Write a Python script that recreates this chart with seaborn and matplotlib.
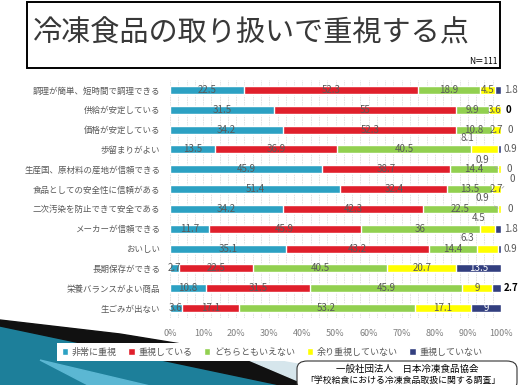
import matplotlib
matplotlib.use("Agg")
import matplotlib.pyplot as plt
from matplotlib.patches import Polygon, Rectangle, FancyBboxPatch
import numpy as np
import pandas as pd
import seaborn as sns

# data
items = [
    "調理が簡単、短時間で調理できる",
    "供給が安定している",
    "価格が安定している",
    "歩留まりがよい",
    "生産国、原材料の産地が信頼できる",
    "食品としての安全性に信頼がある",
    "二次汚染を防止できて安全である",
    "メーカーが信頼できる",
    "おいしい",
    "長期保存ができる",
    "栄養バランスがよい商品",
    "生ごみが出ない",
]
series_names = ["非常に重視", "重視している", "どちらともいえない", "余り重視していない", "重視していない"]
very_important = [22.5, 31.5, 34.2, 13.5, 45.9, 51.4, 34.2, 11.7, 35.1, 2.7, 10.8, 3.6]
important = [52.3, 55, 52.3, 36.9, 38.7, 32.4, 42.3, 45.9, 43.2, 22.5, 31.5, 17.1]
neutral = [18.9, 9.9, 10.8, 40.5, 14.4, 13.5, 22.5, 36, 14.4, 40.5, 45.9, 53.2]
not_much = [4.5, 3.6, 2.7, 8.1, 0.9, 2.7, 0.9, 4.5, 6.3, 20.7, 9, 17.1]
not_important = [1.8, 0, 0, 0.9, 0, 0, 0, 1.8, 0.9, 13.5, 2.7, 9]
tick_labels = [f"{v}%" for v in range(0, 101, 10)]

colors = ["#2ca1c3", "#e01f2b", "#92d050", "#ffff00", "#333f7f"]
label_gray = "#595959"

W, H = 520, 385


def fx(x):
    return x / W


def fy(y):
    return 1 - y / H


sns.set_style("white")
plt.rcParams["font.family"] = ["Noto Sans CJK JP", "DejaVu Sans"]

vals = np.array([very_important, important, neutral, not_much, not_important])
cums = vals.cumsum(axis=0)
df = pd.DataFrame({"item": items})
for j, name in enumerate(series_names):
    df[name] = cums[j]

fig = plt.figure(figsize=(5.2, 3.85), dpi=100)

# background decoration (bottom left)
fig.add_artist(Polygon([(fx(0), fy(326)), (fx(285), fy(386)), (fx(0), fy(386))],
                       closed=True, transform=fig.transFigure, color="#1d7f9a", zorder=0))
fig.add_artist(Polygon([(fx(40), fy(360)), (fx(150), fy(386)), (fx(90), fy(386))],
                       closed=True, transform=fig.transFigure, color="#5bb7d3", zorder=0))
fig.add_artist(Polygon([(fx(0), fy(320)), (fx(120), fy(334)), (fx(230), fy(352)),
                        (fx(310), fy(386)), (fx(285), fy(386)), (fx(0), fy(326))],
                       closed=True, transform=fig.transFigure, color="#111111", zorder=0))
fig.add_artist(Polygon([(fx(230), fy(352)), (fx(420), fy(386)), (fx(310), fy(386))],
                       closed=True, transform=fig.transFigure, color="#d6e6ec", zorder=0))
fig.add_artist(Rectangle((fx(57), fy(361)), fx(448), 18 / H, transform=fig.transFigure,
                         facecolor="white", edgecolor="none", zorder=1))

ax = fig.add_axes([fx(170), fy(318), fx(331), 238 / H])

# stacked bars: draw cumulative totals from the last series backwards
for j in range(len(series_names) - 1, -1, -1):
    sns.barplot(data=df, x=series_names[j], y="item", orient="h", color=colors[j],
                width=0.4, label=series_names[j], ax=ax, saturation=1, zorder=3)

handles, labels = ax.get_legend_handles_labels()
if ax.get_legend() is not None:
    ax.get_legend().remove()

ax.set_xlim(0, 100)
ax.set_ylim(len(items) - 0.5, -0.5)
ax.set_xticks(range(0, 101, 10))
ax.set_xticklabels(tick_labels, fontsize=6.5, color="#7f7f7f")
ax.set_xticks(np.arange(0, 100.1, 2.5), minor=True)
ax.tick_params(axis="x", length=0, pad=8, which="both")
ax.tick_params(axis="y", length=0, pad=7, labelsize=6.1, labelcolor=label_gray)
ax.grid(axis="x", which="both", color="#dedede", linestyle=(0, (2, 1)), linewidth=0.6, zorder=0)
ax.grid(axis="y", visible=False)
ax.set_axisbelow(True)
ax.set_xlabel("")
ax.set_ylabel("")
for s in ax.spines.values():
    s.set_visible(False)

# value labels
outside_right = {(0, 4): 3, (1, 4): 5, (2, 4): 7, (3, 4): 3, (4, 4): 6,
                 (6, 4): 7, (7, 4): 3, (8, 4): 3, (10, 4): 3}
moved = {(3, 3): (-17, 11), (4, 3): (-17, 9), (6, 3): (-17, 11),
         (7, 3): (-9, 11), (8, 3): (-20, 11), (5, 4): (11, 10)}
leaders = {(4, 3), (6, 3), (5, 4)}
bold_black = {(1, 4), (10, 4)}
white_text = {(9, 4), (11, 4)}

for i in range(len(items)):
    for j in range(len(series_names)):
        v = vals[j, i]
        txt = f"{v:g}"
        color = label_gray
        weight = "normal"
        if (i, j) in bold_black:
            color, weight = "black", "bold"
        if (i, j) in white_text:
            color = "white"
        center = cums[j, i] - v / 2
        if (i, j) in outside_right:
            ax.annotate(txt, (100, i), xytext=(outside_right[(i, j)], 0),
                        textcoords="offset pixels", ha="left", va="center",
                        fontsize=7, color=color, fontweight=weight, zorder=5)
        elif (i, j) in moved:
            dx, dy = moved[(i, j)]
            x0 = 100 if j == 4 else center
            arrow = dict(arrowstyle="-", color="#a6a6a6", lw=0.6, shrinkA=2, shrinkB=1) \
                if (i, j) in leaders else None
            ax.annotate(txt, (x0, i), xytext=(dx, dy), textcoords="offset pixels",
                        ha="center", va="center", fontsize=7, color=color,
                        arrowprops=arrow, zorder=5)
        else:
            ax.text(center, i, txt, ha="center", va="center", fontsize=7,
                    color=color, fontweight=weight, zorder=5)

# legend
leg = fig.legend(handles[::-1], labels[::-1], ncol=5, loc="center",
                 bbox_to_anchor=(fx(272), fy(352)), frameon=False, fontsize=6.5,
                 handlelength=0.7, handleheight=0.7, handletextpad=0.4, columnspacing=1.3)
for t in leg.get_texts():
    t.set_color(label_gray)
leg.set_zorder(2)

# title box
fig.add_artist(Rectangle((fx(27), fy(68)), fx(473), 66 / H, transform=fig.transFigure,
                         facecolor="white", edgecolor="black", linewidth=1.4))
fig.text(fx(33), fy(33), "冷凍食品の取り扱いで重視する点", fontsize=21, color="#383838",
         ha="left", va="center")
fig.text(fx(497), fy(62), "N＝111", fontsize=6, color="black", ha="right", va="center")

# source box
fig.add_artist(FancyBboxPatch((fx(297), fy(390)), fx(220), 29 / H,
                              boxstyle="round,pad=0,rounding_size=0.02",
                              transform=fig.transFigure, facecolor="white",
                              edgecolor="#333333", linewidth=0.8, zorder=3))
fig.text(fx(407), fy(369), "一般社団法人　日本冷凍食品協会", fontsize=6.8, color="black",
         ha="center", va="center", zorder=4)
fig.text(fx(403), fy(380), "「学校給食における冷凍食品取扱に関する調査」", fontsize=6.4,
         color="black", ha="center", va="center", zorder=4)

fig.savefig("out.png", dpi=100)
